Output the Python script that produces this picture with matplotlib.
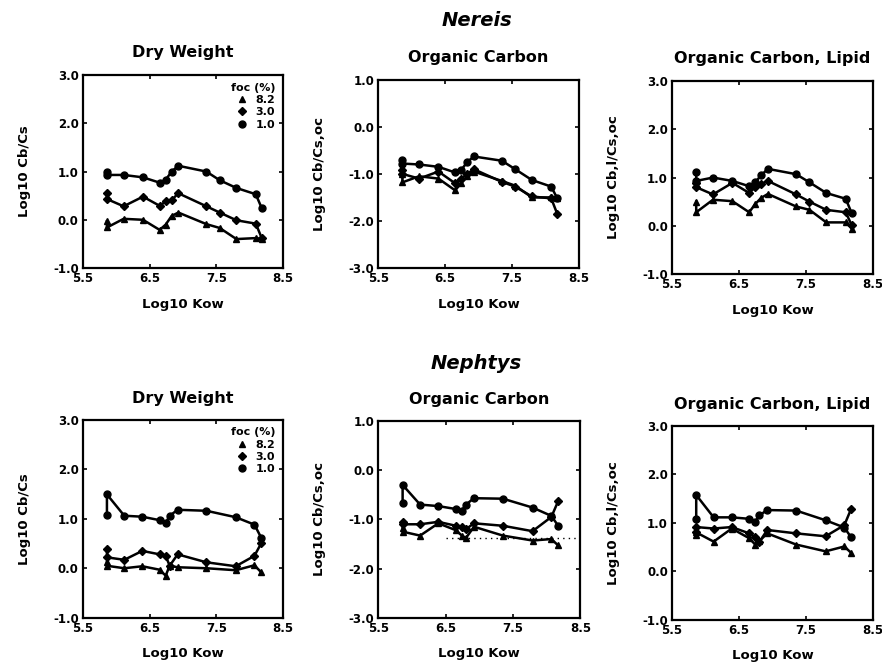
import numpy as np
import matplotlib
matplotlib.use("Agg")
import matplotlib.pyplot as plt

plt.rcParams['font.family'] = ['DejaVu Sans']
plt.rcParams['font.weight'] = 'bold'

# foc (%) series labels and markers
foc_labels = ["8.2", "3.0", "1.0"]
foc_markers = ["^", "D", "o"]

# Nereis  (log10 Kow positions of the congeners)
x_nereis = [5.86, 5.86, 6.11, 6.40, 6.65, 6.74, 6.83, 6.93, 7.35, 7.55, 7.80, 8.09, 8.18]
nereis_dw_82 = [-0.03, -0.16, 0.02, 0.00, -0.21, -0.10, 0.08, 0.15, -0.09, -0.17, -0.40, -0.38, -0.40]
nereis_dw_30 = [0.55, 0.43, 0.28, 0.48, 0.29, 0.38, 0.41, 0.55, 0.28, 0.15, -0.01, -0.08, -0.38]
nereis_dw_10 = [1.00, 0.93, 0.93, 0.88, 0.77, 0.83, 1.00, 1.12, 1.00, 0.82, 0.66, 0.53, 0.24]
nereis_oc_82 = [-1.00, -1.18, -1.05, -1.10, -1.35, -1.20, -1.05, -0.95, -1.15, -1.25, -1.50, -1.50, -1.52]
nereis_oc_30 = [-0.92, -1.00, -1.10, -0.95, -1.20, -1.10, -1.00, -0.90, -1.17, -1.27, -1.48, -1.52, -1.85]
nereis_oc_10 = [-0.70, -0.78, -0.80, -0.85, -0.97, -0.92, -0.75, -0.63, -0.72, -0.90, -1.13, -1.27, -1.52]
nereis_lip_82 = [0.50, 0.28, 0.54, 0.51, 0.28, 0.45, 0.58, 0.66, 0.40, 0.33, 0.07, 0.07, -0.06]
nereis_lip_30 = [0.89, 0.80, 0.65, 0.89, 0.68, 0.80, 0.87, 0.93, 0.65, 0.50, 0.33, 0.28, 0.01]
nereis_lip_10 = [1.12, 0.93, 1.00, 0.93, 0.82, 0.90, 1.05, 1.18, 1.07, 0.90, 0.68, 0.56, 0.26]

# Nephtys
x_nephtys = [5.86, 5.86, 6.12, 6.39, 6.65, 6.74, 6.80, 6.92, 7.35, 7.79, 8.07, 8.17]
nephtys_dw_82 = [0.12, 0.05, 0.00, 0.04, -0.03, -0.15, 0.05, 0.02, 0.00, -0.04, 0.06, -0.08]
nephtys_dw_30 = [0.38, 0.22, 0.17, 0.35, 0.28, 0.25, 0.05, 0.28, 0.12, 0.04, 0.25, 0.50]
nephtys_dw_10 = [1.08, 1.49, 1.06, 1.04, 0.97, 0.91, 1.06, 1.18, 1.16, 1.03, 0.88, 0.62]
nephtys_oc_82 = [-1.18, -1.25, -1.33, -1.08, -1.22, -1.33, -1.38, -1.15, -1.33, -1.43, -1.40, -1.53]
nephtys_oc_30 = [-1.05, -1.10, -1.10, -1.05, -1.13, -1.15, -1.20, -1.08, -1.13, -1.24, -0.95, -0.63]
nephtys_oc_10 = [-0.66, -0.30, -0.70, -0.73, -0.79, -0.82, -0.70, -0.57, -0.58, -0.76, -0.93, -1.13]
nephtys_lip_82 = [0.75, 0.80, 0.61, 0.88, 0.68, 0.55, 0.62, 0.78, 0.55, 0.41, 0.51, 0.38]
nephtys_lip_30 = [0.80, 0.91, 0.88, 0.91, 0.78, 0.70, 0.60, 0.85, 0.78, 0.72, 0.95, 1.28]
nephtys_lip_10 = [1.08, 1.57, 1.11, 1.11, 1.08, 1.01, 1.15, 1.26, 1.25, 1.05, 0.90, 0.70]
nephtys_oc_ref = -1.38   # dotted reference level in the Nephtys OC panel

x_ticks = [5.5, 6.5, 7.5, 8.5]
ylab_dw = "Log10 Cb/Cs"
ylab_oc = "Log10 Cb/Cs,oc"
ylab_lip = "Log10 Cb,l/Cs,oc"

fig = plt.figure(figsize=(8.82, 6.65), dpi=100)

# axes boxes [left, bottom, width, height]
boxes = [
    [0.094, 0.597, 0.227, 0.290],
    [0.429, 0.597, 0.227, 0.283],
    [0.762, 0.588, 0.228, 0.290],
    [0.094, 0.071, 0.227, 0.298],
    [0.429, 0.071, 0.229, 0.296],
    [0.762, 0.068, 0.228, 0.292],
]

panels = [
    (x_nereis, [nereis_dw_82, nereis_dw_30, nereis_dw_10], (-1, 3), ylab_dw, "Dry Weight"),
    (x_nereis, [nereis_oc_82, nereis_oc_30, nereis_oc_10], (-3, 1), ylab_oc, "Organic Carbon"),
    (x_nereis, [nereis_lip_82, nereis_lip_30, nereis_lip_10], (-1, 3), ylab_lip, "Organic Carbon, Lipid"),
    (x_nephtys, [nephtys_dw_82, nephtys_dw_30, nephtys_dw_10], (-1, 3), ylab_dw, "Dry Weight"),
    (x_nephtys, [nephtys_oc_82, nephtys_oc_30, nephtys_oc_10], (-3, 1), ylab_oc, "Organic Carbon"),
    (x_nephtys, [nephtys_lip_82, nephtys_lip_30, nephtys_lip_10], (-1, 3), ylab_lip, "Organic Carbon, Lipid"),
]

for i, (xs, series, ylim, ylab, title) in enumerate(panels):
    ax = fig.add_axes(boxes[i])
    for ys, mk, lab in zip(series, foc_markers, foc_labels):
        ms = 4.5 if mk == "D" else 5
        ax.plot(xs, ys, color="black", lw=1.8, marker=mk, ms=ms, label=lab)
    if i == 4:
        ax.plot([6.5, 8.5], [nephtys_oc_ref, nephtys_oc_ref], color="black", lw=1.0, ls=(0, (1, 3)))
    yt = np.arange(ylim[0], ylim[1] + 0.5, 1.0)
    ax.set_xlim(5.5, 8.5)
    ax.set_ylim(*ylim)
    ax.set_xticks(x_ticks)
    ax.set_yticks(yt)
    ax.set_xticklabels(["%.1f" % t for t in x_ticks], fontsize=8.5, fontweight="bold")
    ax.set_yticklabels(["%.1f" % t for t in yt], fontsize=8.5, fontweight="bold")
    ax.tick_params(direction="in", length=3, width=1.2, top=True, right=True, pad=3)
    for sp in ax.spines.values():
        sp.set_linewidth(1.6)
    ax.set_xlabel("Log10 Kow", fontsize=9.5, fontweight="bold", labelpad=9)
    ax.set_ylabel(ylab, fontsize=9.5, fontweight="bold", labelpad=16)
    ax.set_title(title, fontsize=11.5, fontweight="bold", pad=13 if i < 3 else 12)
    if i in (0, 3):
        leg = ax.legend(title="foc (%)", loc="upper right", frameon=False, fontsize=8,
                        title_fontsize=8, handlelength=0.8, handletextpad=0.8,
                        labelspacing=0.2, borderaxespad=0.3, markerfirst=True)
        for line in leg.get_lines():
            line.set_linestyle("none")
        for t in leg.get_texts():
            t.set_fontweight("bold")
        leg.get_title().set_fontweight("bold")
        leg._legend_box.align = "right"

fig.text(0.541, 1 - 20 / 665, "Nereis", ha="center", va="center",
         fontsize=14, fontweight="bold", style="italic")
fig.text(0.540, 1 - 363 / 665, "Nephtys", ha="center", va="center",
         fontsize=14, fontweight="bold", style="italic")

fig.savefig("out.png", dpi=100)
